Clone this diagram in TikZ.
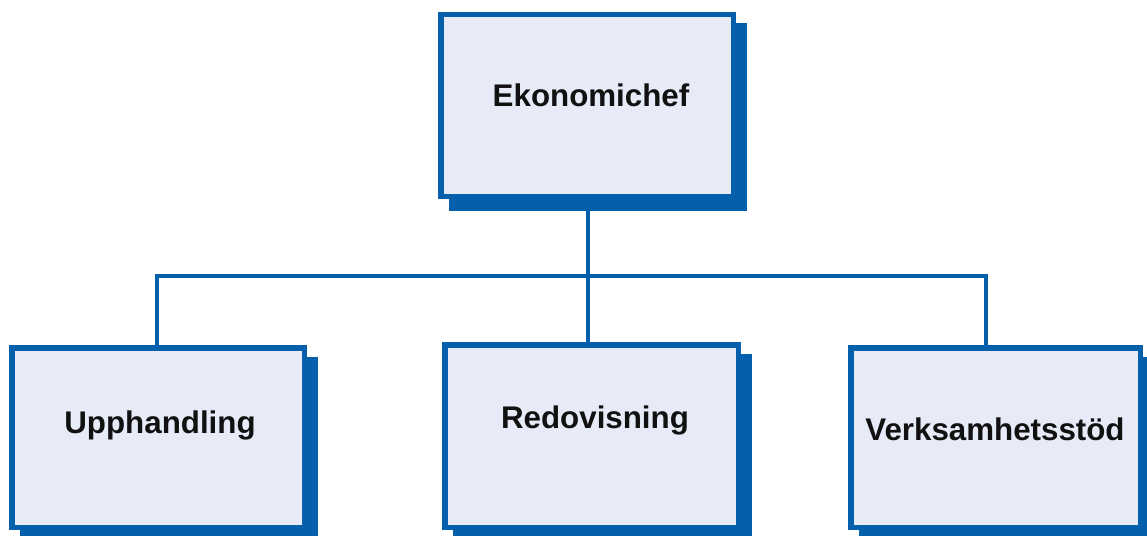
\documentclass[tikz,border=0pt]{standalone}
\usepackage{fontspec}
\setmainfont{Liberation Sans}
\definecolor{boxblue}{HTML}{0560AC}
\definecolor{boxfill}{HTML}{E7EAF7}
\definecolor{ink}{HTML}{111111}
\tikzset{
  orgbox/.style={rectangle, draw=boxblue, fill=boxfill, line width=5.5pt,
    inner sep=0pt, outer sep=0pt,
    preaction={draw=boxblue, fill=boxblue, line width=5.5pt,
      transform canvas={xshift=10.5pt, yshift=-11.5pt}}},
  orgtext/.style={anchor=base, inner sep=0pt, text=ink,
    font=\fontsize{31.3}{36}\selectfont\bfseries},
  conn/.style={draw=boxblue, line width=4.8pt, line join=miter}
}
\begin{document}
\begin{tikzpicture}[x=1pt,y=-1pt]
\useasboundingbox (0,0) rectangle (1147,535);
\clip (0,0) rectangle (1147,535);
% bus junctions
\coordinate (jl) at (157,276);
\coordinate (jm) at (588,276);
\coordinate (jr) at (986,276);
% boxes
\node[orgbox, minimum width=292.5pt, minimum height=181.5pt] (chef) at (587,105.5) {};
\node[orgbox, minimum width=292.5pt, minimum height=179.5pt] (upph) at (158,437.5) {};
\node[orgbox, minimum width=293.5pt, minimum height=182.5pt] (redo) at (591.5,436) {};
\node[orgbox, minimum width=289.5pt, minimum height=179.5pt] (verk) at (995.5,437.5) {};
% connectors
\draw[conn] (chef.south -| jm) -- (jm);
\draw[conn] (jl |- upph.north) -- (jl) -- (jr) -- (jr |- verk.north);
\draw[conn] (jm) -- (jm |- redo.north);
% labels
\node[orgtext] (chefT) at (591,106) {Ekonomichef};
\node[orgtext] (upphT) at (160,433) {Upphandling};
\node[orgtext] (redoT) at (595,428) {Redovisning};
\node[orgtext] (verkT) at (995,440) {Verksamhetsstöd};
\end{tikzpicture}
\end{document}
